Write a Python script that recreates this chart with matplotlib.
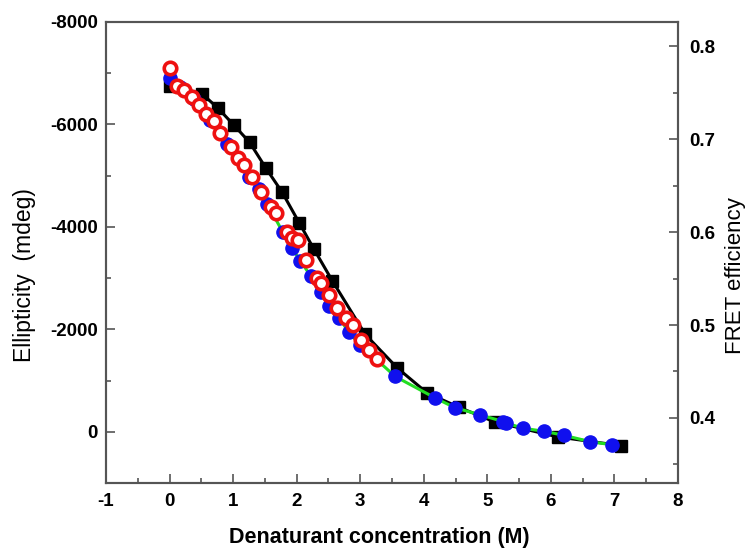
import numpy as np
import matplotlib.pyplot as plt
from matplotlib.ticker import MultipleLocator

plt.rcParams['font.family'] = ['Liberation Sans', 'DejaVu Sans']
plt.rcParams['axes.unicode_minus'] = False

# black squares: ellipticity (mdeg)
sq_x = [0.0, 0.51, 0.76, 1.01, 1.26, 1.52, 1.77, 2.04, 2.27, 2.56, 3.08, 3.58,
        4.05, 4.55, 5.12, 6.11, 7.10]
sq_y = [-6760, -6600, -6320, -5990, -5650, -5140, -4680, -4080, -3570, -2950,
        -1900, -1250, -760, -480, -190, 100, 270]

# blue filled circles: ellipticity (mdeg), joined by green line
bl_x = [0.0, 0.16, 0.39, 0.63, 0.91, 1.25, 1.41, 1.54, 1.78, 1.92, 2.06, 2.22,
        2.38, 2.51, 2.67, 2.82, 3.0, 3.55, 4.18, 4.49, 4.89, 5.25, 5.30, 5.56,
        5.89, 6.21, 6.61, 6.96]
bl_y = [-6900, -6740, -6500, -6080, -5620, -4970, -4740, -4450, -3900, -3590,
        -3340, -3040, -2720, -2460, -2230, -1940, -1700, -1080, -660, -470,
        -330, -200, -170, -70, -10, 70, 190, 255]

# red open circles: FRET efficiency
fr_x = [0.0, 0.11, 0.235, 0.356, 0.47, 0.575, 0.705, 0.795, 0.967, 1.07, 1.165,
        1.29, 1.437, 1.594, 1.672, 1.854, 1.928, 2.025, 2.147, 2.324, 2.378,
        2.508, 2.638, 2.779, 2.884, 3.02, 3.146, 3.265]
fr_y = [0.777, 0.757, 0.753, 0.745, 0.737, 0.727, 0.720, 0.707, 0.692, 0.680,
        0.672, 0.659, 0.643, 0.627, 0.620, 0.600, 0.594, 0.591, 0.570, 0.551,
        0.545, 0.532, 0.518, 0.508, 0.500, 0.484, 0.473, 0.463]

fig = plt.figure(figsize=(7.48, 5.5), dpi=100)
ax = fig.add_axes([0.1417, 0.1218, 0.7647, 0.8382])

ax.plot(sq_x, sq_y, '-', color='black', lw=2.2, marker='s', ms=8.5, zorder=2)
ax.plot(bl_x, bl_y, '-', color='#22dd22', lw=2.2, zorder=3)
ax.plot(bl_x, bl_y, 'o', color='#1010ee', ms=9.5, mec='#1010ee', zorder=4)

ax.set_xlim(-1, 8)
ax.set_ylim(1000, -8000)
ax.xaxis.set_major_locator(MultipleLocator(1))
ax.xaxis.set_minor_locator(MultipleLocator(0.5))
ax.yaxis.set_minor_locator(MultipleLocator(1000))
ax.set_yticks([-8000, -6000, -4000, -2000, 0])

ax2 = ax.twinx()
ax2.plot(fr_x, fr_y, 'o', mfc='white', mec='#ee1111', mew=2.6, ms=9, zorder=5)
ax2.set_ylim(0.330, 0.826)
ax2.yaxis.set_major_locator(MultipleLocator(0.1))
ax2.yaxis.set_minor_locator(MultipleLocator(0.05))

for a in (ax, ax2):
    for s in a.spines.values():
        s.set_color('#555555')
        s.set_linewidth(1.5)
    a.tick_params(which='major', direction='in', length=6.5, width=1.2,
                  color='#555555', labelsize=13.5, pad=6)
    a.tick_params(which='minor', direction='in', length=3.5, width=1.2,
                  color='#555555')
    for lab in a.get_xticklabels() + a.get_yticklabels():
        lab.set_fontweight('bold')

ax.tick_params(axis='y', which='both', right=False)
ax.tick_params(axis='x', which='both', top=False, pad=7)
ax2.tick_params(axis='y', which='both', left=False, pad=8)

ax.set_xlabel('Denaturant concentration (M)', fontsize=15.5, fontweight='bold')
ax.xaxis.set_label_coords(0.477, -0.095)
ax.set_ylabel('Ellipticity  (mdeg)', fontsize=16.5)
ax.yaxis.set_label_coords(-0.123, 0.45)
ax2.set_ylabel('FRET efficiency', fontsize=16)
ax2.yaxis.set_label_coords(1.082, 0.45)

fig.savefig('out.png', dpi=100)
